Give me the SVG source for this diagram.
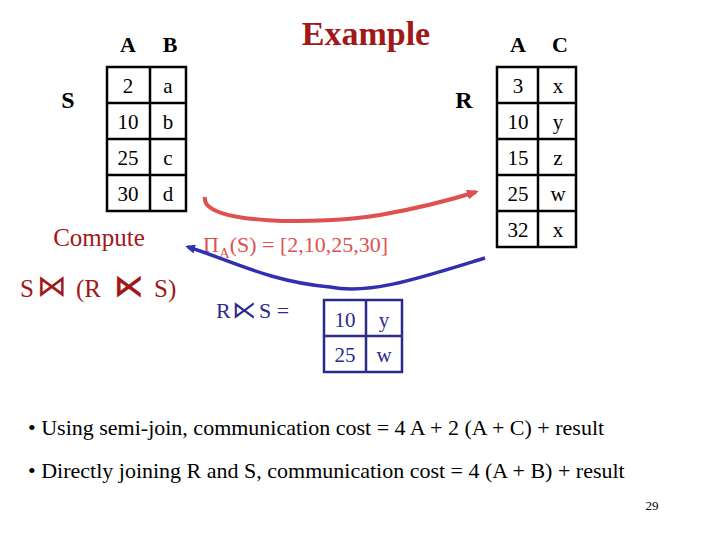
<svg xmlns="http://www.w3.org/2000/svg" width="720" height="540" viewBox="0 0 720 540">
<style>
text{font-family:"Liberation Serif","DejaVu Serif","Times New Roman",serif}
.s{font-family:"DejaVu Sans",sans-serif}
.h{font-size:22px;font-weight:bold;text-anchor:middle}
.c{font-size:21px;text-anchor:middle}
.t{fill:none;stroke:#000;stroke-width:2.5}
.b{fill:none;stroke:#2b2b8c;stroke-width:2.5}
.red{fill:#a01818}
.blue{fill:#2b2b8c}
</style>
<defs>
<marker id="ar" markerWidth="12" markerHeight="10" refX="9" refY="5" orient="auto" markerUnits="userSpaceOnUse"><path d="M0,0 L12,5 L0,10 Z" fill="#e05050"/></marker>
<marker id="ab" markerWidth="10" markerHeight="9" refX="7" refY="4.5" orient="auto" markerUnits="userSpaceOnUse"><path d="M0,0 L10,4.5 L0,9 Z" fill="#3030b0"/></marker>
</defs>
<text x="366" y="45" style="font-size:34px;font-weight:bold;fill:#a01818;text-anchor:middle">Example</text>
<g id="S">
<text x="68" y="108" class="h" style="font-size:24px">S</text>
<text x="128" y="52" class="h">A</text><text x="170" y="52" class="h">B</text>
<rect x="107" y="67" width="79" height="144" class="t"/>
<path d="M150,67V211M107,103H186M107,139H186M107,175H186" class="t"/>
<text x="128" y="93" class="c">2</text><text x="168" y="93" class="c">a</text>
<text x="128" y="129" class="c">10</text><text x="168" y="129" class="c">b</text>
<text x="128" y="165" class="c">25</text><text x="168" y="165" class="c">c</text>
<text x="128" y="201" class="c">30</text><text x="168" y="201" class="c">d</text>
</g>
<g id="R">
<text x="464" y="108" class="h" style="font-size:24px">R</text>
<text x="518" y="52" class="h">A</text><text x="560" y="52" class="h">C</text>
<rect x="497" y="67" width="79" height="180" class="t"/>
<path d="M538,67V247M497,103H576M497,139H576M497,175H576M497,211H576" class="t"/>
<text x="518" y="93" class="c">3</text><text x="558" y="93" class="c">x</text>
<text x="518" y="129" class="c">10</text><text x="558" y="129" class="c">y</text>
<text x="518" y="165" class="c">15</text><text x="558" y="165" class="c">z</text>
<text x="518" y="201" class="c">25</text><text x="558" y="201" class="c">w</text>
<text x="518" y="237" class="c">32</text><text x="558" y="237" class="c">x</text>
</g>
<g id="compute">
<text x="99" y="246" class="red" style="font-size:25px;text-anchor:middle">Compute</text>
<text x="20" y="297" class="red" style="font-size:25px">S</text>
<text x="37" y="296" class="red s" style="font-size:30px">⋈</text>
<text x="76" y="297" class="red" style="font-size:25px">(R</text>
<text x="114" y="296" class="red s" style="font-size:30px;font-weight:bold">⋉</text>
<text x="154" y="297" class="red" style="font-size:25px">S)</text>
</g>
<g id="proj">
<text x="203" y="252" style="font-size:22px;fill:#e05050">Π<tspan dy="6" style="font-size:15px">A</tspan><tspan dy="-6">(S) = [2,10,25,30]</tspan></text>
</g>
<g id="result">
<text x="216" y="318" class="blue" style="font-size:22px">R</text>
<text x="232" y="318" class="blue s" style="font-size:24px">⋉</text>
<text x="259" y="318" class="blue" style="font-size:22px">S =</text>
<rect x="324" y="300" width="78" height="72" class="b"/>
<path d="M366,300V372M324,336H402" class="b"/>
<text x="345" y="327" class="c blue">10</text><text x="384" y="327" class="c blue">y</text>
<text x="345" y="362" class="c blue">25</text><text x="384" y="362" class="c blue">w</text>
</g>
<g id="connectors">
<path d="M205,197 C200,225 320,225 380,215 C420,208 450,200 476,192" fill="none" stroke="#e05050" stroke-width="4" marker-end="url(#ar)"/>
<path d="M485,258 C420,278 370,295 330,287 C270,282 230,260 188,247" fill="none" stroke="#3030b0" stroke-width="3.5" marker-end="url(#ab)"/>
</g>
<text x="28" y="435" style="font-size:22px">• Using semi-join, communication cost = 4 A + 2 (A + C)  + result</text>
<text x="28" y="478" style="font-size:22px">• Directly joining R and S, communication cost = 4 (A + B) + result</text>
<text x="652" y="510" style="font-size:13px;text-anchor:middle">29</text>
</svg>
